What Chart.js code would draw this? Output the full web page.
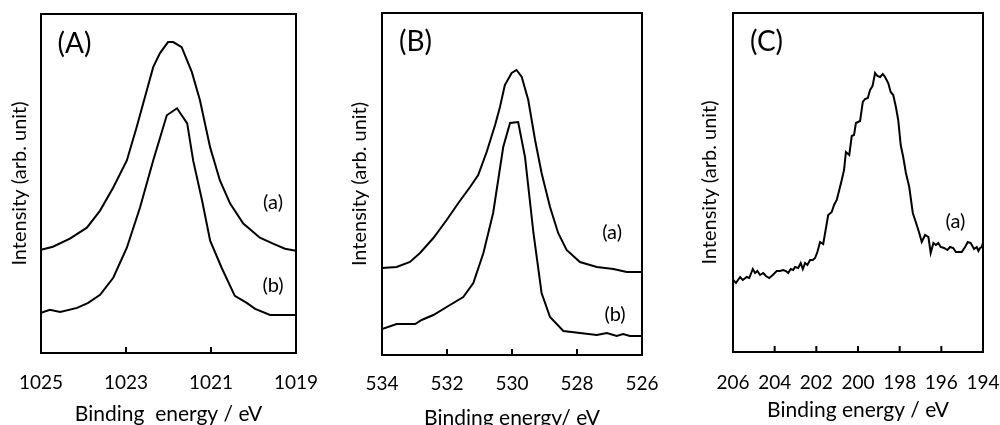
<!DOCTYPE html>
<html>
<head>
<meta charset="utf-8">
<script src="https://cdn.jsdelivr.net/npm/chart.js@4"></script>
<style>
  html, body { margin: 0; padding: 0; background: #fff; }
  #wrap { position: relative; width: 1000px; height: 425px; overflow: hidden; }
  .panel { position: absolute; top: 0; }
</style>
</head>
<body>
<div id="wrap">
  <div class="panel" style="left:0;width:340px;height:425px"><canvas id="chartA"></canvas></div>
  <div class="panel" style="left:340px;width:350px;height:435px"><canvas id="chartB"></canvas></div>
  <div class="panel" style="left:690px;width:310px;height:425px"><canvas id="chartC"></canvas></div>
</div>
<script>
// (A) Cr 2p region
const ticksA = [1025, 1023, 1021, 1019];
const energyAa = [1025, 1024.72, 1024.32, 1023.92, 1023.61, 1023.3, 1022.98, 1022.75, 1022.51, 1022.36, 1022.2, 1022.01, 1021.89, 1021.69, 1021.45, 1021.26, 1021.02, 1020.79, 1020.55, 1020.24, 1019.85, 1019.54, 1019.26, 1019];
const intensityAa = [103, 106, 114, 125, 142, 165, 192, 225, 262, 285, 299, 310, 310, 305, 280, 252, 205, 172, 149, 129, 115, 109, 104, 102];
const energyAb = [1025, 1024.79, 1024.55, 1024.15, 1023.89, 1023.61, 1023.3, 1022.98, 1022.67, 1022.36, 1022.04, 1021.8, 1021.56, 1021.42, 1021.21, 1021.02, 1020.75, 1020.44, 1020.16, 1019.96, 1019.61, 1019];
const intensityAb = [40, 43, 41, 45, 50, 58, 75, 105, 145, 192, 237, 244, 229, 192, 152, 112, 85, 57, 50, 44, 38, 38];

// (B) O 1s region
const ticksB = [534, 532, 530, 528, 526];
const energyBa = [534, 533.55, 533.14, 532.83, 532.42, 532.01, 531.65, 531.29, 531.04, 530.78, 530.52, 530.37, 530.22, 530.01, 529.86, 529.7, 529.5, 529.29, 529.09, 528.83, 528.58, 528.32, 527.91, 527.39, 526.88, 526.47, 526];
const intensityBa = [87, 88, 93, 102, 117, 135, 152, 168, 180, 203, 230, 248, 270, 282, 285, 278, 255, 215, 182, 148, 122, 105, 93, 88, 86, 83, 83];
const energyBb = [534, 533.55, 532.98, 532.78, 532.42, 531.96, 531.5, 531.19, 530.88, 530.58, 530.27, 530.06, 529.81, 529.6, 529.34, 529.09, 528.83, 528.42, 527.91, 527.39, 527.08, 526.78, 526.58, 526.37, 526];
const intensityBb = [26, 31, 31, 35, 40, 49, 58, 72, 102, 142, 208, 232, 233, 198, 122, 62, 38, 24, 22, 20, 22, 19, 21, 19, 19];

// (C) Cl 2p region
const ticksC = [206, 204, 202, 200, 198, 196, 194];
const energyCa = [205.99, 205.86, 205.66, 205.53, 205.34, 205.22, 205.05, 204.94, 204.83, 204.7, 204.55, 204.42, 204.26, 204.09, 203.9, 203.74, 203.59, 203.46, 203.35, 203.23, 203.11, 203.02, 202.87, 202.75, 202.65, 202.54, 202.43, 202.3, 202.17, 202.06, 201.95, 201.82, 201.67, 201.43, 201.26, 201.15, 201.02, 200.9, 200.78, 200.67, 200.58, 200.42, 200.3, 200.19, 200.1, 199.9, 199.77, 199.66, 199.53, 199.42, 199.3, 199.18, 199.07, 198.94, 198.81, 198.7, 198.55, 198.43, 198.31, 198.18, 198.07, 197.95, 197.83, 197.7, 197.54, 197.37, 197.18, 197.06, 196.94, 196.78, 196.62, 196.51, 196.38, 196.26, 196.15, 196.03, 195.87, 195.71, 195.58, 195.43, 195.3, 195.14, 195.02, 194.86, 194.73, 194.59, 194.43, 194.3, 194.22, 194.14, 194.06, 193.99];
const intensityCa = [72, 69, 75, 72, 75, 74, 83, 79, 81, 77, 79, 76, 74, 77, 81, 81, 82, 81, 79, 83, 82, 85, 84, 89, 83, 89, 87, 92, 92, 94, 100, 110, 108, 137, 140, 147, 152, 162, 172, 182, 200, 197, 216, 217, 229, 231, 250, 253, 254, 262, 266, 279, 276, 275, 278, 275, 269, 260, 257, 245, 232, 207, 195, 179, 165, 139, 127, 119, 110, 117, 115, 99, 109, 107, 109, 105, 104, 102, 105, 104, 100, 100, 100, 105, 110, 109, 103, 105, 101, 104, 105, 110];

const FONT = 'Lato, "Noto Sans", sans-serif';

function toPoints(xs, ys) {
  return xs.map((x, i) => ({ x: x, y: ys[i] }));
}

// frame around the plot area, inward ticks, panel labels
const framePlugin = {
  id: 'frame',
  afterDraw(chart, args, opts) {
    const { ctx, chartArea: a, scales } = chart;
    ctx.save();
    ctx.strokeStyle = '#000';
    ctx.lineWidth = 2;
    ctx.strokeRect(a.left, a.top, a.right - a.left, a.bottom - a.top);
    ctx.beginPath();
    scales.x.ticks.forEach(t => {
      const px = scales.x.getPixelForValue(t.value);
      ctx.moveTo(px, a.bottom);
      ctx.lineTo(px, a.bottom - 6);
    });
    ctx.stroke();
    ctx.fillStyle = '#000';
    ctx.textAlign = 'center';
    ctx.textBaseline = 'middle';
    (opts.labels || []).forEach(l => {
      ctx.font = l.size + 'px ' + FONT;
      ctx.fillText(l.text, scales.x.getPixelForValue(l.x), scales.y.getPixelForValue(l.y));
    });
    ctx.restore();
  }
};

function config(datasets, ticks, yMax, xTitle, layout, labels) {
  return {
    type: 'line',
    data: {
      datasets: datasets.map(d => ({
        data: d,
        borderColor: '#000',
        borderWidth: 2,
        pointRadius: 0,
        tension: 0,
        fill: false
      }))
    },
    options: {
      responsive: false,
      animation: false,
      events: [],
      layout: { padding: { top: layout.top, right: layout.right, left: 0, bottom: 0 } },
      plugins: {
        legend: { display: false },
        tooltip: { enabled: false },
        frame: { labels: labels }
      },
      scales: {
        x: {
          type: 'linear',
          reverse: true,
          min: Math.min(...ticks),
          max: Math.max(...ticks),
          afterBuildTicks: s => { s.ticks = ticks.map(v => ({ value: v })); },
          afterFit: s => { s.height = layout.xh; },
          grid: { display: false, drawTicks: true, tickLength: layout.tl },
          border: { display: false },
          ticks: { color: '#000', font: { family: FONT, size: 19 }, padding: 0, maxRotation: 0, callback: v => String(v) },
          title: { display: true, text: xTitle, color: '#000', font: { family: FONT, size: 21 }, padding: { top: 0, bottom: layout.tb } }
        },
        y: {
          min: 0,
          max: yMax,
          afterFit: s => { s.width = layout.yw; },
          grid: { display: false, drawTicks: false },
          border: { display: false },
          ticks: { display: false },
          title: { display: true, text: 'Intensity (arb. unit)', color: '#000', font: { family: FONT, size: 20 }, padding: { top: 8, bottom: 0 } }
        }
      }
    },
    plugins: [framePlugin]
  };
}

function makeChart(id, w, h, cfg) {
  const canvas = document.getElementById(id);
  canvas.width = w;
  canvas.height = h;
  canvas.style.width = w + 'px';
  canvas.style.height = h + 'px';
  return new Chart(canvas, cfg);
}

makeChart('chartA', 340, 425, config(
  [toPoints(energyAa, intensityAa), toPoints(energyAb, intensityAb)],
  ticksA, 338, 'Binding  energy / eV',
  { top: 14, right: 44, xh: 72, yw: 41, tb: -2, tl: 18.5 },
  [
    { text: '(A)', x: 1024.21, y: 308, size: 28 },
    { text: '(a)', x: 1019.54, y: 150, size: 20 },
    { text: '(b)', x: 1019.54, y: 67, size: 20 }
  ]
));

makeChart('chartB', 350, 435, config(
  [toPoints(energyBa, intensityBa), toPoints(energyBb, intensityBb)],
  ticksB, 342, 'Binding energy/ eV',
  { top: 13, right: 48, xh: 80, yw: 42, tb: 4.5, tl: 17 },
  [
    { text: '(B)', x: 532.97, y: 313, size: 28 },
    { text: '(a)', x: 526.92, y: 122, size: 20 },
    { text: '(b)', x: 526.83, y: 40, size: 20 }
  ]
));

makeChart('chartC', 310, 425, config(
  [toPoints(energyCa, intensityCa)],
  ticksC, 339, 'Binding energy / eV',
  { top: 13, right: 17, xh: 73, yw: 43, tb: 2.5, tl: 19.3 },
  [
    { text: '(C)', x: 204.39, y: 310, size: 28 },
    { text: '(a)', x: 195.32, y: 130, size: 20 }
  ]
));
</script>
</body>
</html>
